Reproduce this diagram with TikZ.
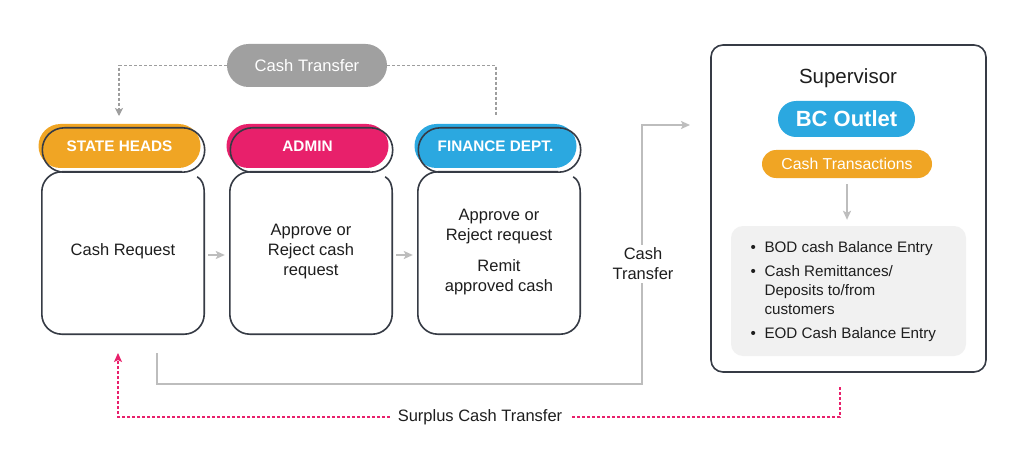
\documentclass[tikz,border=0pt]{standalone}
\usepackage{fontspec}
\setmainfont{Liberation Sans}
\usetikzlibrary{arrows.meta}
\definecolor{corange}{HTML}{F0A524}
\definecolor{cpink}{HTML}{E8206B}
\definecolor{cblue}{HTML}{2BA8E0}
\definecolor{cgreypill}{HTML}{A0A0A0}
\definecolor{cdark}{HTML}{363B45}
\definecolor{cline}{HTML}{BDBDBD}
\definecolor{cdash}{HTML}{9E9E9E}
\definecolor{clight}{HTML}{F1F1F1}
\definecolor{ctxt}{HTML}{1E1E1E}
\tikzset{
  lbl/.style={font=\fontsize{16.5}{20}\selectfont, text=ctxt, align=center, inner sep=0pt},
  tabfill/.style={minimum width=162pt, minimum height=44pt, rounded corners=22pt, inner sep=0pt,
    font=\bfseries\fontsize{15.3}{18}\selectfont, text=white},
  taboutline/.style={draw=cdark, line width=1.6pt, rounded corners=22pt},
  boxarea/.style={minimum width=162pt, minimum height=162pt, inner sep=0pt},
  boxline/.style={draw=cdark, line width=1.6pt},
  flowline/.style={draw=cline, line width=1.5pt},
  greytip/.style={-{Stealth[length=9pt,width=8pt,inset=2pt]}},
  dashgrey/.style={draw=cdash, line width=1.1pt, dash pattern=on 3pt off 2pt},
  dashpink/.style={draw=cpink, line width=1.2pt, dash pattern=on 3pt off 2pt},
  pill/.style={inner sep=0pt, text=white},
}
\newcommand{\openbox}[1]{%
  \draw[boxline] ([shift={(-7,5)}]#1.north east) .. controls ([shift={(-2,8)}]#1.north east) and ([shift={(0,13)}]#1.north east) .. ([shift={(0,21)}]#1.north east)
    [rounded corners=20pt] -- (#1.south east) -- (#1.south west) -- (#1.north west) -- ([shift={(-22,0)}]#1.north east);}
\begin{document}
\begin{tikzpicture}[x=1pt,y=-1pt]
\fill[white] (0,0) rectangle (1024,473);
\useasboundingbox (0,0) rectangle (1024,473);

% top grey pill
\node[pill, fill=cgreypill, minimum width=160pt, minimum height=43pt, rounded corners=21.5pt,
  font=\fontsize{16.6}{20}\selectfont] (ct) at (307,65.5) {Cash Transfer};

% tabs
\node[tabfill, fill=corange] (shtab) at (119.5,146) {STATE HEADS};
\node[tabfill, fill=cpink] (adtab) at (307.5,146) {ADMIN};
\node[tabfill, fill=cblue] (fitab) at (495.5,146) {FINANCE DEPT.};
\foreach \t in {shtab,adtab,fitab}
  \draw[taboutline] ([shift={(4,4)}]\t.south west) rectangle ([shift={(4,4)}]\t.north east);

% boxes
\node[boxarea] (shbox) at (123,253) {};
\node[boxarea] (adbox) at (311,253) {};
\node[boxarea] (fibox) at (499,253) {};
\openbox{shbox}
\openbox{adbox}
\openbox{fibox}

\node[lbl] (shtxt) at (123,251) {Cash Request};
\node[lbl] (adtxt) at (311,252) {Approve or\\Reject cash\\request};
\node[lbl] (fitxt) at (499,252) {Approve or\\Reject request\\[11pt]Remit\\approved cash};

% arrows between boxes
\draw[flowline, greytip, shorten <=4pt, shorten >=5pt] ([yshift=-2pt]shbox.east) -- ([yshift=-2pt]adbox.west);
\draw[flowline, greytip, shorten <=4pt, shorten >=5pt] ([yshift=-2pt]adbox.east) -- ([yshift=-2pt]fibox.west);

% dashed cash transfer lines
\coordinate (tcs) at (119,116);
\coordinate (tcf) at (496,115);
\draw[dashgrey, -{Stealth[length=8pt,width=8pt,inset=2pt]}] (ct.west) -| (tcs);
\draw[dashgrey] (ct.east) -| (tcf);

% supervisor panel
\node[draw=cdark, line width=1.6pt, rounded corners=12pt, minimum width=275pt, minimum height=327pt, inner sep=0pt] (svb) at (848.5,208.5) {};
\node[font=\fontsize{20.5}{24}\selectfont, text=ctxt, inner sep=0pt] (sup) at (848,78) {Supervisor};
\node[pill, fill=cblue, minimum width=137pt, minimum height=36pt, rounded corners=18pt,
  font=\bfseries\fontsize{22}{26}\selectfont] (bco) at (846.5,119) {BC Outlet};
\node[pill, fill=corange, minimum width=170pt, minimum height=28pt, rounded corners=14pt,
  font=\fontsize{15.8}{19}\selectfont] (ctx) at (847,164) {Cash Transactions};
\node[fill=clight, rounded corners=12pt, minimum width=235pt, minimum height=130pt, inner sep=0pt] (lst) at (848.5,291) {};
\draw[flowline, greytip, shorten <=6pt, shorten >=6pt] (ctx.south) -- (ctx.south |- lst.north);
\node[anchor=west, inner sep=0pt, text=ctxt, font=\fontsize{15.2}{19}\selectfont] (bul) at (750.5,291.5) {%
  \begin{tabular}{@{}l@{\hspace{8.5pt}}l@{}}
  \textbullet & BOD cash Balance Entry\\[5pt]
  \textbullet & Cash Remittances/\\
   & Deposits to/from\\
   & customers\\[5pt]
  \textbullet & EOD Cash Balance Entry
  \end{tabular}};

% main cash transfer connector
\coordinate (g0) at (157,353);
\coordinate (g1) at (642,384);
\coordinate (g2) at (690,125);
\draw[flowline, greytip] (g0) |- (g1) |- (g2);
\node[lbl, fill=white, inner sep=3pt] (ctlbl) at (643,264) {Cash\\Transfer};

% surplus connector
\coordinate (p0) at (840,387);
\coordinate (p1) at (118,417);
\coordinate (p2) at (118,353);
\draw[dashpink, -{Stealth[length=9pt,width=8pt,inset=2pt]}] (p0) |- (p1) -- (p2);
\node[lbl, fill=white, inner xsep=8pt, inner ysep=3pt, font=\fontsize{16.5}{20}\selectfont] (sclbl) at (480,417) {Surplus Cash Transfer};
\end{tikzpicture}
\end{document}
